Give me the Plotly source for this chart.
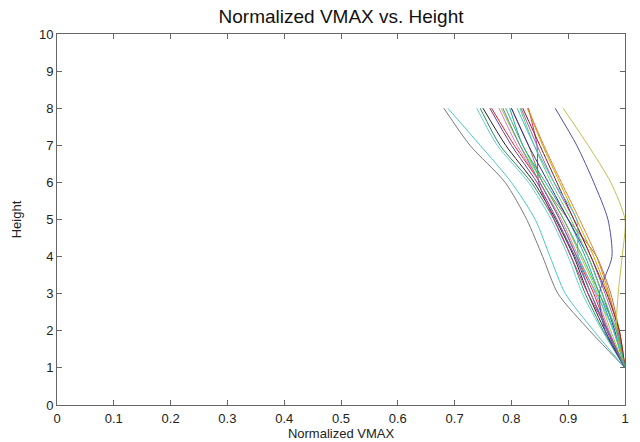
import plotly.graph_objects as go

heights = [8, 7, 6, 5, 4, 3, 2, 1]

line01 = [0.681, 0.727, 0.789, 0.827, 0.855, 0.882, 0.938, 1.0]
line02 = [0.688, 0.745, 0.800, 0.842, 0.868, 0.895, 0.945, 1.0]
line03 = [0.739, 0.775, 0.830, 0.870, 0.900, 0.925, 0.960, 1.0]
line04 = [0.745, 0.780, 0.835, 0.875, 0.905, 0.930, 0.962, 1.0]
line05 = [0.750, 0.790, 0.840, 0.878, 0.910, 0.935, 0.965, 1.0]
line06 = [0.762, 0.800, 0.845, 0.880, 0.912, 0.940, 0.968, 1.0]
line07 = [0.765, 0.805, 0.850, 0.885, 0.915, 0.945, 0.970, 1.0]
line08 = [0.778, 0.810, 0.850, 0.888, 0.918, 0.948, 0.972, 1.0]
line09 = [0.830, 0.845, 0.848, 0.875, 0.905, 0.935, 0.970, 1.0]
line10 = [0.800, 0.830, 0.855, 0.900, 0.950, 0.975, 0.990, 1.0]
line11 = [0.782, 0.815, 0.855, 0.892, 0.922, 0.952, 0.975, 1.0]
line12 = [0.828, 0.855, 0.885, 0.915, 0.945, 0.970, 0.990, 1.0]
line13 = [0.797, 0.820, 0.860, 0.900, 0.930, 0.955, 0.980, 1.0]
line14 = [0.800, 0.830, 0.865, 0.900, 0.935, 0.960, 0.982, 1.0]
line15 = [0.829, 0.857, 0.888, 0.920, 0.950, 0.972, 0.988, 1.0]
line16 = [0.815, 0.840, 0.870, 0.905, 0.935, 0.960, 0.985, 1.0]
line17 = [0.817, 0.845, 0.875, 0.910, 0.940, 0.965, 0.987, 1.0]
line18 = [0.820, 0.850, 0.880, 0.910, 0.940, 0.968, 0.990, 1.0]
line19 = [0.810, 0.840, 0.875, 0.915, 0.918, 0.950, 0.980, 1.0]
line20 = [0.877, 0.915, 0.945, 0.970, 0.977, 0.955, 0.965, 1.0]
line21 = [0.891, 0.935, 0.975, 1.000, 0.995, 0.988, 0.985, 1.0]
line22 = [0.790, 0.820, 0.855, 0.892, 0.925, 0.955, 0.985, 1.0]
line23 = [0.785, 0.815, 0.850, 0.885, 0.915, 0.940, 0.970, 1.0]

series = [line01, line02, line03, line04, line05, line06, line07, line08,
          line09, line10, line11, line12, line13, line14, line15, line16,
          line17, line18, line19, line20, line21, line22, line23]
colors = ['#7a7a7a', '#4cc8c8', '#66d0d0', '#2e8b57', '#222222', '#6a3d9a',
          '#d62728', '#e377c2', '#c0308f', '#b0704d', '#9acd32', '#c8a800',
          '#20a0a0', '#3030a0', '#e08030', '#66cc66', '#9467bd', '#8b1a1a',
          '#40c0d0', '#5050b0', '#c0c050', '#3cb371', '#5f7fa0']

xticks = [0, 0.1, 0.2, 0.3, 0.4, 0.5, 0.6, 0.7, 0.8, 0.9, 1]
xticklabels = ['0', '0.1', '0.2', '0.3', '0.4', '0.5', '0.6', '0.7', '0.8', '0.9', '1']
yticks = list(range(0, 11))

fig = go.Figure()
for vals, col in zip(series, colors):
    fig.add_trace(go.Scatter(x=vals, y=heights, mode='lines',
                             line=dict(color=col, width=1, shape='spline', smoothing=0.7),
                             showlegend=False, hoverinfo='skip'))

font = "Liberation Sans, Arial, sans-serif"
fig.update_layout(
    width=640, height=442,
    margin=dict(l=57, r=15, t=34, b=37),
    paper_bgcolor='white', plot_bgcolor='white',
    font=dict(family=font, size=13, color='#222'),
    title=dict(text='Normalized VMAX vs. Height', x=0.5, xref='paper', y=0.962,
               yanchor='middle', font=dict(size=19, color='#111')),
)
axis_common = dict(showgrid=False, zeroline=False, showline=True, linecolor='#666',
                   linewidth=1, mirror='ticks', ticks='inside', ticklen=5,
                   tickcolor='#666', automargin=False)
fig.update_xaxes(range=[0, 1], tickvals=xticks, ticktext=xticklabels,
                 ticklabelstandoff=1,
                 title=dict(text='Normalized VMAX', standoff=3, font=dict(size=13)),
                 **axis_common)
fig.update_yaxes(range=[0, 10], tickvals=yticks,
                 title=dict(text='Height', standoff=14, font=dict(size=13)),
                 **axis_common)

fig.write_html("out.html")
